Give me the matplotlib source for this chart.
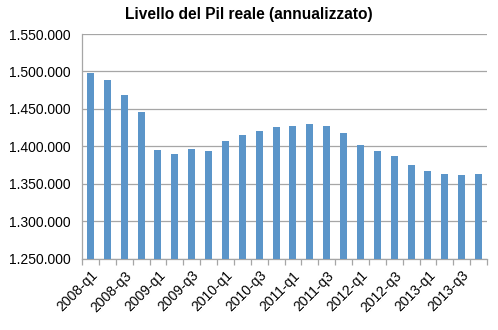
import matplotlib.pyplot as plt
import numpy as np

# quarters 2008-q1 .. 2013-q4
quarters = [f"{y}-q{q}" for y in range(2008, 2014) for q in range(1, 5)]
pil = [1498000, 1489000, 1469000, 1445500,
       1394500, 1390000, 1396000, 1393500,
       1407000, 1415000, 1420500, 1425800,
       1427600, 1429800, 1427600, 1418300,
       1402200, 1393800, 1387100, 1375100,
       1367100, 1363100, 1361800, 1363100]

plt.rcParams['font.family'] = ['Liberation Sans', 'DejaVu Sans']

fig = plt.figure(figsize=(4.98, 3.30), dpi=100)
ax = fig.add_axes([82 / 498, 1 - 258.7 / 330, 405 / 498, (258.7 - 34) / 330])

x = np.arange(len(quarters))
ax.bar(x, pil, width=0.42, color='#5B95C9', zorder=3)

ax.set_ylim(1250000, 1550000)
ax.set_yticks(np.arange(1250000, 1550001, 50000))
ax.set_yticklabels([f"{v:,}".replace(",", ".") for v in range(1250000, 1550001, 50000)], fontsize=10)
ax.tick_params(axis='y', length=0, pad=8)
ax.grid(axis='y', color='#A6A6A6', linewidth=0.9, zorder=0)

ax.set_xlim(-0.5, len(quarters) - 0.5)
ax.set_xticks(x[::2])
ax.set_xticklabels(quarters[::2], rotation=45, ha='right', rotation_mode='anchor', fontsize=10)
ax.tick_params(axis='x', length=0, pad=7)
# category boundary ticks
ax.set_xticks(np.arange(-0.5, len(quarters), 1), minor=True)
ax.tick_params(axis='x', which='minor', length=4, color='#A6A6A6', width=0.9)

for s in ['top', 'right']:
    ax.spines[s].set_visible(False)
for s in ['left', 'bottom']:
    ax.spines[s].set_color('#A6A6A6')
    ax.spines[s].set_linewidth(0.9)

fig.text(0.5, 1 - 14 / 330, "Livello del Pil reale (annualizzato)", ha='center', va='center',
         fontsize=11.2, fontweight='bold')

fig.savefig('out.png', dpi=100)
